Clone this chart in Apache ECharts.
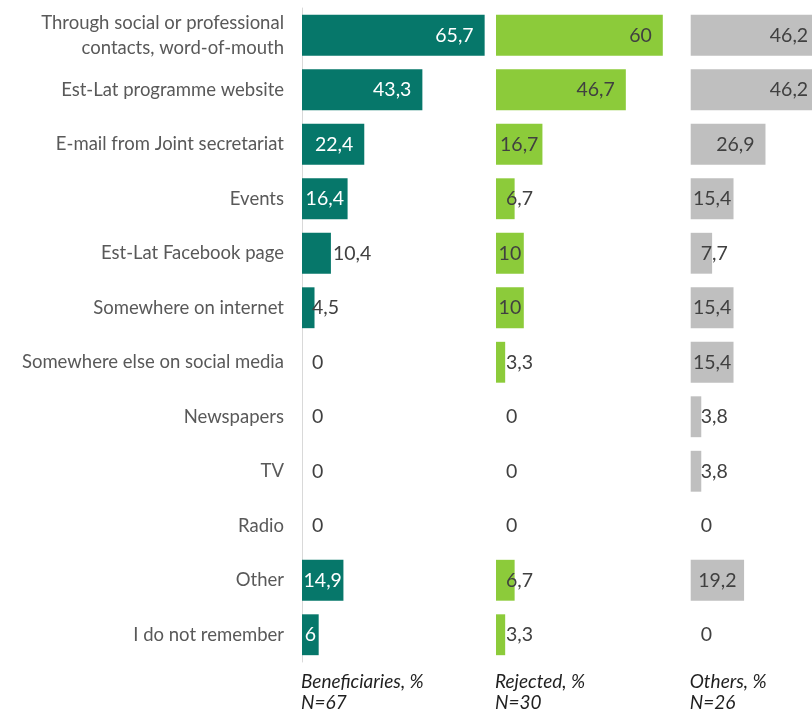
<!DOCTYPE html>
<html>
<head>
<meta charset="utf-8">
<script src="https://cdn.jsdelivr.net/npm/echarts@6/dist/echarts.min.js"></script>
<style>
  html, body { margin: 0; padding: 0; background: #ffffff; }
  #chart { width: 812px; height: 714px; }
</style>
</head>
<body>
<div id="chart"></div>
<script>
// How applicants heard about the programme, by respondent group (%)
const categories = [
  'Through social or professional\ncontacts, word-of-mouth',
  'Est-Lat programme website',
  'E-mail from Joint secretariat',
  'Events',
  'Est-Lat Facebook page',
  'Somewhere on internet',
  'Somewhere else on social media',
  'Newspapers',
  'TV',
  'Radio',
  'Other',
  'I do not remember'
];
const beneficiaries = [65.7, 43.3, 22.4, 16.4, 10.4, 4.5, 0, 0, 0, 0, 14.9, 6];
const rejected      = [60, 46.7, 16.7, 6.7, 10, 10, 3.3, 0, 0, 0, 6.7, 3.3];
const others        = [46.2, 46.2, 26.9, 15.4, 7.7, 15.4, 15.4, 3.8, 3.8, 0, 19.2, 0];
const groupNames = ['Beneficiaries, %', 'Rejected, %', 'Others, %'];
const groupSizes = ['N=67', 'N=30', 'N=26'];

// Layout and styling
const groupData = [beneficiaries, rejected, others];
const colors = ['#06776A', '#8CCB3A', '#BFBFBF'];
const chartWidth = 812;
const panelLeft = [302, 496, 690.7];
const pxPerUnit = 2.78;          // same horizontal scale in every panel
const fullMax = 70;              // nominal range of each panel
const gridTop = 8;
const gridHeight = 654;
const valueFontSize = 19.5;
const valueFont = valueFontSize + 'px Lato';
const darkText = '#404040';

const measureCtx = document.createElement('canvas').getContext('2d');
measureCtx.font = valueFont;
const fmt = v => String(v).replace('.', ',');

// Place each value label the way an "inside end" label behaves:
// right-aligned inside the bar when it fits, otherwise centred, pushed past the end, or set near the base.
function buildItems(values, panel) {
  return values.map(v => {
    const tw = measureCtx.measureText(fmt(v)).width;
    const bw = v * pxPerUnit;
    let x, inside;
    if (tw + 22 <= bw) { x = bw - 11 - tw; inside = true; }
    else if (tw + 2 <= bw) { x = (bw - tw) / 2; inside = true; }
    else if (bw > 25) { x = bw + 2; inside = false; }
    else { x = 10; inside = false; }
    return {
      value: v,
      label: {
        position: [x, '50%'],
        align: 'left',
        verticalAlign: 'middle',
        color: (panel === 0 && inside) ? '#ffffff' : darkText
      }
    };
  });
}

const grids = [], xAxes = [], yAxes = [], series = [], graphics = [];
groupData.forEach((values, i) => {
  // the last panel runs off the right edge, so its visible range is cut at the border
  const width = Math.min(fullMax * pxPerUnit, chartWidth - panelLeft[i]);
  const axisMax = width / pxPerUnit;
  grids.push({ left: panelLeft[i], top: gridTop, width: width, height: gridHeight });
  xAxes.push({ type: 'value', gridIndex: i, min: 0, max: axisMax, show: false });
  yAxes.push({
    type: 'category',
    gridIndex: i,
    data: categories,
    inverse: true,
    axisTick: { show: false },
    axisLine: { show: i === 0, lineStyle: { color: '#D9D9D9', width: 1 } },
    axisLabel: {
      show: i === 0,
      margin: 18,
      color: '#595959',
      fontFamily: 'Lato',
      fontSize: 18.5,
      lineHeight: 25,
      align: 'right'
    },
    splitLine: { show: false }
  });
  series.push({
    type: 'bar',
    xAxisIndex: i,
    yAxisIndex: i,
    barWidth: '75%',
    clip: true,
    itemStyle: { color: colors[i] },
    label: {
      show: true,
      fontFamily: 'Lato',
      fontSize: valueFontSize,
      formatter: p => fmt(p.value)
    },
    data: buildItems(values, i),
    animation: false
  });
  graphics.push({
    type: 'text',
    left: panelLeft[i] - 1,
    top: 671,
    style: {
      text: groupNames[i] + '\n' + groupSizes[i],
      font: 'italic 19px Lato',
      fill: '#1F1F1F',
      lineHeight: 21
    }
  });
});

const chart = echarts.init(document.getElementById('chart'), null, { renderer: 'canvas' });
chart.setOption({
  backgroundColor: '#ffffff',
  animation: false,
  grid: grids,
  xAxis: xAxes,
  yAxis: yAxes,
  series: series,
  graphic: graphics
});
</script>
</body>
</html>
